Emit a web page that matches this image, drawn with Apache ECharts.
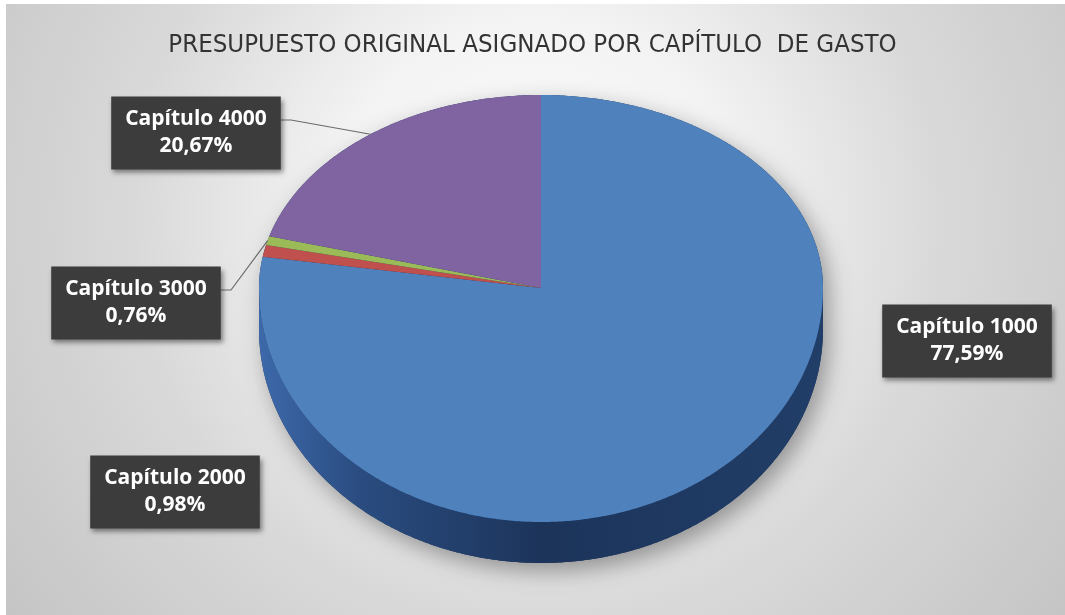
<!DOCTYPE html>
<html>
<head>
<meta charset="utf-8">
<script src="https://cdn.jsdelivr.net/npm/echarts@6/dist/echarts.min.js"></script>
<style>
html,body{margin:0;padding:0;background:#ffffff;}
#chart{width:1065px;height:615px;}
</style>
</head>
<body>
<div id="chart"></div>
<script>
// ---- data ----
const titleText = 'PRESUPUESTO ORIGINAL ASIGNADO POR CAPÍTULO  DE GASTO';
const categories = ['Capítulo 1000', 'Capítulo 2000', 'Capítulo 3000', 'Capítulo 4000'];
const values = [77.59, 0.98, 0.76, 20.67];

// ---- style / layout ----
const colors = ['#4f81bd', '#c0504d', '#9bbb59', '#8064a2'];
const PIE = { cx: 541, cy: 288, rx: 282, ryTop: 193, ryBottom: 234, depth: 41 };
const labelCenters = [[967, 341], [175, 492], [136, 303], [196, 133]];
const labelLeader = [false, false, true, true];
const BOX_HALF_W = 85;

const total = values.reduce((a, b) => a + b, 0);
const starts = [];
values.reduce((acc, v, i) => { starts[i] = acc; return acc + v; }, 0);

function pt(deg, dy) {
  const t = deg * Math.PI / 180;
  const s = Math.sin(t), c = Math.cos(t);
  const ry = c >= 0 ? PIE.ryTop : PIE.ryBottom;
  return [PIE.cx + PIE.rx * s, PIE.cy - ry * c + (dy || 0)];
}
function arc(a, b, dy) {
  const out = [];
  const n = Math.max(2, Math.ceil(Math.abs(b - a) / 0.5));
  for (let k = 0; k <= n; k++) out.push(pt(a + (b - a) * k / n, dy));
  return out;
}
function fmtPct(v) { return (v / total * 100).toFixed(2).replace('.', ',') + '%'; }

function sideRender(params, api) {
  const i = params.dataIndex;
  const v = api.value(1);
  const a = starts[i] / total * 360, b = a + v / total * 360;
  const s = Math.max(a, 90), e = Math.min(b, 270);
  if (e <= s) return null;
  const top = arc(s, e, 0);
  const bot = arc(e, s, PIE.depth);
  return {
    type: 'polygon',
    shape: { points: top.concat(bot) },
    style: {
      fill: new echarts.graphic.LinearGradient(0, 0, 1, 0, [
        { offset: 0, color: '#3d69aa' },
        { offset: 0.18, color: '#2a4c80' },
        { offset: 0.5, color: '#1c345a' },
        { offset: 1, color: '#213e68' }
      ])
    }
  };
}

function topRender(params, api) {
  const i = params.dataIndex;
  const v = api.value(1);
  const a = starts[i] / total * 360, b = a + v / total * 360;
  const pts = [[PIE.cx, PIE.cy]].concat(arc(a, b, 0));
  const children = [{
    type: 'polygon',
    shape: { points: pts },
    style: { fill: colors[i] }
  }];
  const c = labelCenters[i];
  if (labelLeader[i]) {
    const m = pt((a + b) / 2, 0);
    const sx = c[0] + BOX_HALF_W, sy = c[1] - 13;
    children.push({
      type: 'polyline',
      shape: { points: [[sx, sy], [sx + 10, sy], m] },
      style: { stroke: '#6a6a6a', lineWidth: 1.2, fill: null }
    });
  }
  children.push({
    type: 'text',
    x: c[0], y: c[1],
    style: {
      text: categories[i] + '\n' + fmtPct(v),
      fill: '#ffffff',
      font: 'bold 21px "Open Sans", "Noto Sans", sans-serif',
      align: 'center',
      verticalAlign: 'middle',
      lineHeight: 27,
      backgroundColor: '#3c3c3c',
      padding: [10, 14, 9, 14],
      shadowBlur: 5,
      shadowColor: 'rgba(0,0,0,0.45)',
      shadowOffsetX: 2,
      shadowOffsetY: 3
    }
  });
  return { type: 'group', children: children };
}

// silhouette for the drop shadow
function silhouette() {
  const up = arc(270, 450, 0);
  const down = arc(90, 270, PIE.depth);
  return up.concat(down);
}

const chart = echarts.init(document.getElementById('chart'), null, { renderer: 'canvas' });
chart.setOption({
  animation: false,
  title: {
    text: titleText,
    left: 'center',
    top: 27,
    textStyle: {
      fontFamily: '"Liberation Sans Narrow", "DejaVu Sans Condensed", sans-serif',
      fontSize: 25.6,
      fontWeight: 'normal',
      color: '#333333'
    }
  },
  graphic: [
    {
      type: 'rect', z: -10, silent: true,
      shape: { x: 6, y: 4, width: 1059, height: 611 },
      style: {
        fill: new echarts.graphic.RadialGradient(0.5, 0.35, 1.1, [
          { offset: 0, color: '#ffffff' },
          { offset: 0.3, color: '#f3f3f3' },
          { offset: 0.6, color: '#d9d9d9' },
          { offset: 1, color: '#c4c4c4' }
        ])
      }
    },
    {
      type: 'polygon', z: -5, silent: true,
      shape: { points: silhouette() },
      style: {
        fill: '#1d365c',
        shadowBlur: 22,
        shadowColor: 'rgba(0,0,0,0.35)',
        shadowOffsetX: 6,
        shadowOffsetY: 8
      }
    }
  ],
  series: [
    {
      type: 'custom', coordinateSystem: 'none', z: 1, silent: true,
      data: values.map((v, i) => [i, v]),
      renderItem: sideRender
    },
    {
      type: 'custom', coordinateSystem: 'none', z: 2,
      data: values.map((v, i) => [i, v]),
      renderItem: topRender
    }
  ]
});
</script>
</body>
</html>
